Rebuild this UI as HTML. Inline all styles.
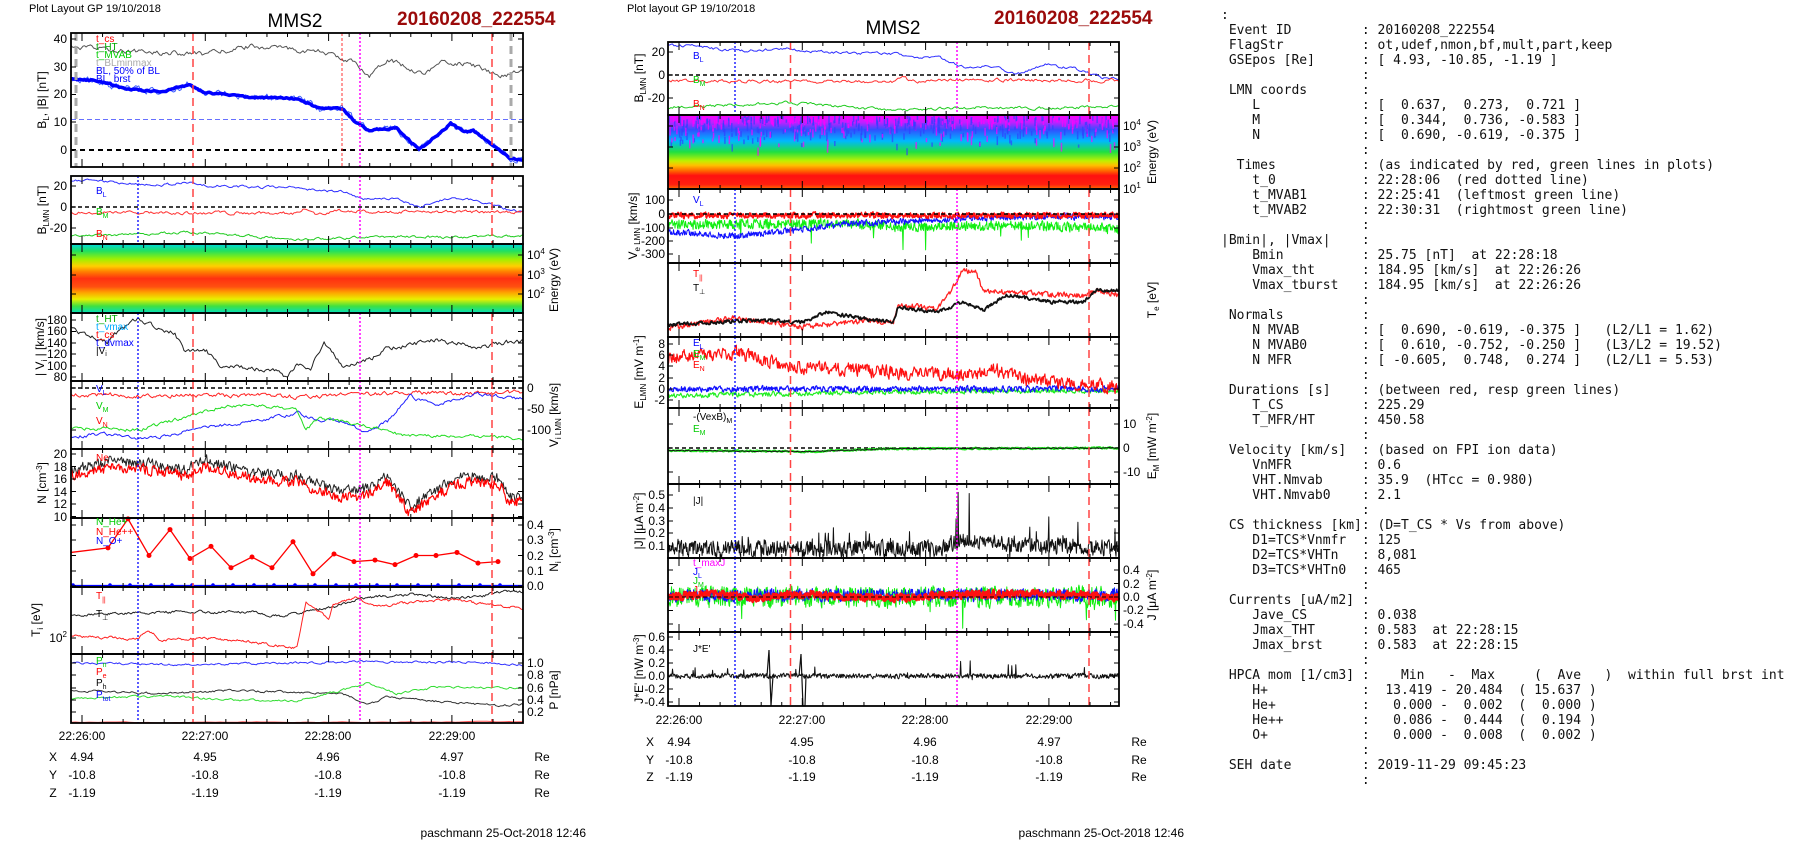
<!DOCTYPE html>
<html><head><meta charset="utf-8">
<style>
html,body{margin:0;padding:0;background:#fff;width:1804px;height:841px;overflow:hidden;position:relative;font-family:"Liberation Sans",sans-serif}
svg{position:absolute;left:0;top:0}
pre{position:absolute;left:1221px;top:8px;margin:0;font-family:"DejaVu Sans Mono","Liberation Mono",monospace;font-size:13px;line-height:15px;color:#111}
svg text{font-family:"Liberation Sans",sans-serif;font-size:12px;fill:#000}
.t{text-anchor:middle}
.r{text-anchor:end}
.lg{font-size:10px}
</style></head><body>
<svg id="s" width="1804" height="841" viewBox="0 0 1804 841">
<defs>
<linearGradient id="g1" x1="0" y1="0" x2="0" y2="1">
<stop offset="0" stop-color="#00d8e0"/><stop offset="0.1" stop-color="#20e060"/><stop offset="0.22" stop-color="#a0f000"/><stop offset="0.32" stop-color="#ffd000"/><stop offset="0.4" stop-color="#ff8000"/><stop offset="0.5" stop-color="#ff3010"/><stop offset="0.62" stop-color="#ff5010"/><stop offset="0.7" stop-color="#ffa000"/><stop offset="0.8" stop-color="#e8f000"/><stop offset="0.9" stop-color="#40e040"/><stop offset="1" stop-color="#00e0c0"/>
</linearGradient>
<linearGradient id="g2" x1="0" y1="0" x2="0" y2="1">
<stop offset="0" stop-color="#ff00ff"/><stop offset="0.1" stop-color="#c020ff"/><stop offset="0.2" stop-color="#3050ff"/><stop offset="0.35" stop-color="#00b8ff"/><stop offset="0.5" stop-color="#20e040"/><stop offset="0.62" stop-color="#c0f000"/><stop offset="0.68" stop-color="#ffc000"/><stop offset="0.76" stop-color="#ff6000"/><stop offset="0.82" stop-color="#ff1010"/><stop offset="0.94" stop-color="#ff2010"/><stop offset="1" stop-color="#ff7000"/>
</linearGradient>
</defs>
<rect x="71" y="244" width="452" height="69" fill="url(#g1)"/>
<rect x="668" y="115" width="451" height="74" fill="url(#g2)"/>
<g id="data"></g>
<!-- titles -->
<text x="29" y="12" style="font-size:11px">Plot Layout GP 19/10/2018</text>
<text x="295" y="27" class="t" style="font-size:19px">MMS2</text>
<text x="397" y="25" style="font-size:19px;font-weight:bold;fill:#9b0a0a">20160208_222554</text>
<text x="627" y="12" style="font-size:11px">Plot layout GP 19/10/2018</text>
<text x="893" y="34" class="t" style="font-size:19px">MMS2</text>
<text x="994" y="24" style="font-size:19px;font-weight:bold;fill:#9b0a0a">20160208_222554</text>
<!-- left tick labels -->
<g class="r">
<text x="67" y="43" class="r">40</text><text x="67" y="71" class="r">30</text><text x="67" y="98" class="r">20</text><text x="67" y="126" class="r">10</text><text x="67" y="154" class="r">0</text>
<text x="67" y="190" class="r">20</text><text x="67" y="211" class="r">0</text><text x="67" y="232" class="r">-20</text>
<text x="67" y="324" class="r">180</text><text x="67" y="335" class="r">160</text><text x="67" y="347" class="r">140</text><text x="67" y="358" class="r">120</text><text x="67" y="370" class="r">100</text><text x="67" y="381" class="r">80</text>
<text x="67" y="458" class="r">20</text><text x="67" y="471" class="r">18</text><text x="67" y="483" class="r">16</text><text x="67" y="496" class="r">14</text><text x="67" y="508" class="r">12</text><text x="67" y="521" class="r">10</text>
<text x="67" y="642" class="r">10<tspan dy="-5" style="font-size:8px">2</tspan></text>
</g>
<text x="527" y="259">10<tspan dy="-5" style="font-size:8px">4</tspan></text><text x="527" y="279">10<tspan dy="-5" style="font-size:8px">3</tspan></text><text x="527" y="298">10<tspan dy="-5" style="font-size:8px">2</tspan></text>
<text x="527" y="392">0</text><text x="527" y="413">-50</text><text x="527" y="434">-100</text>
<text x="527" y="529">0.4</text><text x="527" y="544">0.3</text><text x="527" y="560">0.2</text><text x="527" y="575">0.1</text><text x="527" y="590">0.0</text>
<text x="527" y="667">1.0</text><text x="527" y="679">0.8</text><text x="527" y="692">0.6</text><text x="527" y="704">0.4</text><text x="527" y="716">0.2</text>
<!-- left y titles -->
<text transform="translate(46,100) rotate(-90)" class="t">B<tspan dy="3" style="font-size:8px">L</tspan><tspan dy="-3">, |B| [nT]</tspan></text>
<text transform="translate(46,210) rotate(-90)" class="t">B<tspan dy="3" style="font-size:8px">LMN</tspan><tspan dy="-3"> [nT]</tspan></text>
<text transform="translate(44,347) rotate(-90)" class="t">| V<tspan dy="3" style="font-size:8px">i</tspan><tspan dy="-3"> | [km/s]</tspan></text>
<text transform="translate(46,483) rotate(-90)" class="t">N [cm<tspan dy="-4" style="font-size:8px">-3</tspan><tspan dy="4">]</tspan></text>
<text transform="translate(40,620) rotate(-90)" class="t">T<tspan dy="3" style="font-size:8px">i</tspan><tspan dy="-3"> [eV]</tspan></text>
<text transform="translate(558,280) rotate(-90)" class="t">Energy (eV)</text>
<text transform="translate(558,415) rotate(-90)" class="t">V<tspan dy="3" style="font-size:8px">i LMN</tspan><tspan dy="-3"> [km/s]</tspan></text>
<text transform="translate(558,550) rotate(-90)" class="t">N<tspan dy="3" style="font-size:8px">i</tspan><tspan dy="-3"> [cm</tspan><tspan dy="-4" style="font-size:8px">-3</tspan><tspan dy="4">]</tspan></text>
<text transform="translate(558,690) rotate(-90)" class="t">P [nPa]</text>
<!-- left time/pos -->
<text x="82" y="740" class="t">22:26:00</text><text x="205" y="740" class="t">22:27:00</text><text x="328" y="740" class="t">22:28:00</text><text x="452" y="740" class="t">22:29:00</text>
<text x="53" y="761" class="t">X</text><text x="82" y="761" class="t">4.94</text><text x="205" y="761" class="t">4.95</text><text x="328" y="761" class="t">4.96</text><text x="452" y="761" class="t">4.97</text><text x="542" y="761" class="t">Re</text>
<text x="53" y="779" class="t">Y</text><text x="82" y="779" class="t">-10.8</text><text x="205" y="779" class="t">-10.8</text><text x="328" y="779" class="t">-10.8</text><text x="452" y="779" class="t">-10.8</text><text x="542" y="779" class="t">Re</text>
<text x="53" y="797" class="t">Z</text><text x="82" y="797" class="t">-1.19</text><text x="205" y="797" class="t">-1.19</text><text x="328" y="797" class="t">-1.19</text><text x="452" y="797" class="t">-1.19</text><text x="542" y="797" class="t">Re</text>
<text x="586" y="837" class="r">paschmann 25-Oct-2018 12:46</text>
<!-- middle tick labels -->
<text x="665" y="56" class="r">20</text><text x="665" y="79" class="r">0</text><text x="665" y="102" class="r">-20</text>
<text x="665" y="204" class="r">100</text><text x="665" y="218" class="r">0</text><text x="665" y="232" class="r">-100</text><text x="665" y="245" class="r">-200</text><text x="665" y="258" class="r">-300</text>
<text x="665" y="348" class="r">8</text><text x="665" y="359" class="r">6</text><text x="665" y="370" class="r">4</text><text x="665" y="382" class="r">2</text><text x="665" y="393" class="r">0</text><text x="665" y="404" class="r">-2</text>
<text x="665" y="499" class="r">0.5</text><text x="665" y="512" class="r">0.4</text><text x="665" y="525" class="r">0.3</text><text x="665" y="537" class="r">0.2</text><text x="665" y="550" class="r">0.1</text>
<text x="665" y="641" class="r">0.6</text><text x="665" y="654" class="r">0.4</text><text x="665" y="667" class="r">0.2</text><text x="665" y="680" class="r">0.0</text><text x="665" y="693" class="r">-0.2</text><text x="665" y="706" class="r">-0.4</text>
<text x="1123" y="130">10<tspan dy="-5" style="font-size:8px">4</tspan></text><text x="1123" y="151">10<tspan dy="-5" style="font-size:8px">3</tspan></text><text x="1123" y="172">10<tspan dy="-5" style="font-size:8px">2</tspan></text><text x="1123" y="193">10<tspan dy="-5" style="font-size:8px">1</tspan></text>
<text x="1123" y="428">10</text><text x="1123" y="452">0</text><text x="1123" y="476">-10</text>
<text x="1123" y="574">0.4</text><text x="1123" y="588">0.2</text><text x="1123" y="601">0.0</text><text x="1123" y="614">-0.2</text><text x="1123" y="628">-0.4</text>
<text transform="translate(643,78) rotate(-90)" class="t">B<tspan dy="3" style="font-size:8px">LMN</tspan><tspan dy="-3"> [nT]</tspan></text>
<text transform="translate(637,226) rotate(-90)" class="t">V<tspan dy="3" style="font-size:8px">e LMN</tspan><tspan dy="-3"> [km/s]</tspan></text>
<text transform="translate(643,372) rotate(-90)" class="t">E<tspan dy="3" style="font-size:8px">LMN</tspan><tspan dy="-3">  [mV m</tspan><tspan dy="-4" style="font-size:8px">-1</tspan><tspan dy="4">]</tspan></text>
<text transform="translate(643,521) rotate(-90)" class="t">|J| [μA m<tspan dy="-4" style="font-size:8px">-2</tspan><tspan dy="4">]</tspan></text>
<text transform="translate(643,669) rotate(-90)" class="t">J*E' [nW m<tspan dy="-4" style="font-size:8px">-3</tspan><tspan dy="4">]</tspan></text>
<text transform="translate(1156,152) rotate(-90)" class="t">Energy (eV)</text>
<text transform="translate(1156,300) rotate(-90)" class="t">T<tspan dy="3" style="font-size:8px">e</tspan><tspan dy="-3"> [eV]</tspan></text>
<text transform="translate(1156,446) rotate(-90)" class="t">E<tspan dy="3" style="font-size:8px">M</tspan><tspan dy="-3"> [mW m</tspan><tspan dy="-4" style="font-size:8px">-2</tspan><tspan dy="4">]</tspan></text>
<text transform="translate(1156,595) rotate(-90)" class="t">J [μA m<tspan dy="-4" style="font-size:8px">-2</tspan><tspan dy="4">]</tspan></text>
<text x="679" y="724" class="t">22:26:00</text><text x="802" y="724" class="t">22:27:00</text><text x="925" y="724" class="t">22:28:00</text><text x="1049" y="724" class="t">22:29:00</text>
<text x="650" y="746" class="t">X</text><text x="679" y="746" class="t">4.94</text><text x="802" y="746" class="t">4.95</text><text x="925" y="746" class="t">4.96</text><text x="1049" y="746" class="t">4.97</text><text x="1139" y="746" class="t">Re</text>
<text x="650" y="764" class="t">Y</text><text x="679" y="764" class="t">-10.8</text><text x="802" y="764" class="t">-10.8</text><text x="925" y="764" class="t">-10.8</text><text x="1049" y="764" class="t">-10.8</text><text x="1139" y="764" class="t">Re</text>
<text x="650" y="781" class="t">Z</text><text x="679" y="781" class="t">-1.19</text><text x="802" y="781" class="t">-1.19</text><text x="925" y="781" class="t">-1.19</text><text x="1049" y="781" class="t">-1.19</text><text x="1139" y="781" class="t">Re</text>
<text x="1184" y="837" class="r">paschmann 25-Oct-2018 12:46</text>
<!-- legends -->
<g class="lg">
<text x="96" y="42" class="lg" style="fill:#f00">t_cs</text><text x="96" y="50" class="lg" style="fill:#0a0">t_HT</text><text x="96" y="58" class="lg" style="fill:#0c0">t_MVAB</text><text x="96" y="66" class="lg" style="fill:#aaa">t_BLminmax</text><text x="96" y="74" class="lg" style="fill:#00f">BL, 50% of BL</text><text x="96" y="82" class="lg" style="fill:#00f">BL_brst</text>
<text x="96" y="194" class="lg" style="fill:#00f">B<tspan dy="3" style="font-size:7px">L</tspan></text><text x="96" y="215" class="lg" style="fill:#0c0">B<tspan dy="3" style="font-size:7px">M</tspan></text><text x="96" y="237" class="lg" style="fill:#f00">B<tspan dy="3" style="font-size:7px">N</tspan></text>
<text x="96" y="322" class="lg" style="fill:#0a0">t_HT</text><text x="96" y="330" class="lg" style="fill:#0af">t_vmax</text><text x="96" y="338" class="lg" style="fill:#f00">t_cs</text><text x="96" y="346" class="lg" style="fill:#00f">t_dvmax</text><text x="96" y="354" class="lg">|V<tspan dy="2" style="font-size:7px">i</tspan></text>
<text x="96" y="392" class="lg" style="fill:#00f">V<tspan dy="3" style="font-size:7px">L</tspan></text><text x="96" y="409" class="lg" style="fill:#0c0">V<tspan dy="3" style="font-size:7px">M</tspan></text><text x="96" y="424" class="lg" style="fill:#f00">V<tspan dy="3" style="font-size:7px">N</tspan></text>
<text x="96" y="461" class="lg" style="fill:#f00">Ne</text>
<text x="96" y="525" class="lg" style="fill:#0c0">N_He+</text><text x="96" y="535" class="lg" style="fill:#f00">N_He++</text><text x="96" y="544" class="lg" style="fill:#00f">N_O+</text>
<text x="96" y="599" class="lg" style="fill:#f00">T<tspan dy="3" style="font-size:7px">||</tspan></text><text x="96" y="617" class="lg">T<tspan dy="3" style="font-size:7px">⊥</tspan></text>
<text x="96" y="664" class="lg" style="fill:#0c0">P<tspan dy="3" style="font-size:7px">n</tspan></text><text x="96" y="675" class="lg" style="fill:#f00">P<tspan dy="3" style="font-size:7px">e</tspan></text><text x="96" y="686" class="lg">P<tspan dy="3" style="font-size:7px">h</tspan></text><text x="96" y="698" class="lg" style="fill:#00f">P<tspan dy="3" style="font-size:7px">tot</tspan></text>
<text x="693" y="59" class="lg" style="fill:#00f">B<tspan dy="3" style="font-size:7px">L</tspan></text><text x="693" y="83" class="lg" style="fill:#0c0">B<tspan dy="3" style="font-size:7px">M</tspan></text><text x="693" y="107" class="lg" style="fill:#f00">B<tspan dy="3" style="font-size:7px">N</tspan></text>
<text x="693" y="203" class="lg" style="fill:#00f">V<tspan dy="3" style="font-size:7px">L</tspan></text>
<text x="693" y="277" class="lg" style="fill:#f00">T<tspan dy="3" style="font-size:7px">||</tspan></text><text x="693" y="291" class="lg">T<tspan dy="3" style="font-size:7px">⊥</tspan></text>
<text x="693" y="346" class="lg" style="fill:#00f">E<tspan dy="3" style="font-size:7px">L</tspan></text><text x="693" y="357" class="lg" style="fill:#0c0">E<tspan dy="3" style="font-size:7px">M</tspan></text><text x="693" y="368" class="lg" style="fill:#f00">E<tspan dy="3" style="font-size:7px">N</tspan></text>
<text x="693" y="420" class="lg">-(VexB)<tspan dy="3" style="font-size:7px">M</tspan></text><text x="693" y="432" class="lg" style="fill:#0c0">E<tspan dy="3" style="font-size:7px">M</tspan></text>
<text x="693" y="504" class="lg">|J|</text>
<text x="693" y="566" class="lg" style="fill:#f0f">t_maxJ</text><text x="693" y="575" class="lg" style="fill:#00f">J<tspan dy="3" style="font-size:7px">L</tspan></text><text x="693" y="584" class="lg" style="fill:#0c0">J<tspan dy="3" style="font-size:7px">M</tspan></text><text x="693" y="593" class="lg" style="fill:#f00">J<tspan dy="3" style="font-size:7px">N</tspan></text>
<text x="693" y="652" class="lg">J*E'</text>
</g>
</svg>
<pre>:
 Event ID         : 20160208_222554
 FlagStr          : ot,udef,nmon,bf,mult,part,keep
 GSEpos [Re]      : [ 4.93, -10.85, -1.19 ]
                  :
 LMN coords       :
    L             : [  0.637,  0.273,  0.721 ]
    M             : [  0.344,  0.736, -0.583 ]
    N             : [  0.690, -0.619, -0.375 ]
                  :
  Times           : (as indicated by red, green lines in plots)
    t_0           : 22:28:06  (red dotted line)
    t_MVAB1       : 22:25:41  (leftmost green line)
    t_MVAB2       : 22:30:31  (rightmost green line)
                  :
|Bmin|, |Vmax|    :
    Bmin          : 25.75 [nT]  at 22:28:18
    Vmax_tht      : 184.95 [km/s]  at 22:26:26
    Vmax_tburst   : 184.95 [km/s]  at 22:26:26
                  :
 Normals          :
    N MVAB        : [  0.690, -0.619, -0.375 ]   (L2/L1 = 1.62)
    N MVAB0       : [  0.610, -0.752, -0.250 ]   (L3/L2 = 19.52)
    N MFR         : [ -0.605,  0.748,  0.274 ]   (L2/L1 = 5.53)
                  :
 Durations [s]    : (between red, resp green lines)
    T_CS          : 225.29
    T_MFR/HT      : 450.58
                  :
 Velocity [km/s]  : (based on FPI ion data)
    VnMFR         : 0.6
    VHT.Nmvab     : 35.9  (HTcc = 0.980)
    VHT.Nmvab0    : 2.1
                  :
 CS thickness [km]: (D=T_CS * Vs from above)
    D1=TCS*Vnmfr  : 125
    D2=TCS*VHTn   : 8,081
    D3=TCS*VHTn0  : 465
                  :
 Currents [uA/m2] :
    Jave_CS       : 0.038
    Jmax_THT      : 0.583  at 22:28:15
    Jmax_brst     : 0.583  at 22:28:15
                  :
 HPCA mom [1/cm3] :    Min   -  Max     (  Ave   )  within full brst int
    H+            :  13.419 - 20.484  ( 15.637 )
    He+           :   0.000 -  0.002  (  0.000 )
    He++          :   0.086 -  0.444  (  0.194 )
    O+            :   0.000 -  0.008  (  0.002 )
                  :
 SEH date         : 2019-11-29 09:45:23
                  :</pre>
<script>
(function(){
const G=document.getElementById('data'),NS='http://www.w3.org/2000/svg';
function el(t,a){const e=document.createElementNS(NS,t);for(const k in a)e.setAttribute(k,a[k]);G.appendChild(e);return e;}
let seed=12345;function rnd(){seed|=0;seed=seed+0x6D2B79F5|0;let t=Math.imul(seed^seed>>>15,1|seed);t=t+Math.imul(t^t>>>7,61|t)^t;return((t^t>>>14)>>>0)/4294967296;}
function ip(kp,f){for(let i=1;i<kp.length;i++){if(f<=kp[i][0]){const a=kp[i-1],b=kp[i];return a[1]+(b[1]-a[1])*(f-a[0])/(b[0]-a[0]);}}return kp[kp.length-1][1];}
function tr(X,t,b,kp,yf,amp,n,col,w,ar,spk){ar=(ar===undefined)?0.6:ar;let e=0,d='';for(let i=0;i<=n;i++){const f=i/n;e=ar*e+(rnd()-0.5)*amp;let v=ip(kp,f)+e;if(spk&&rnd()<spk[0])v+=(rnd()-0.2)*spk[1]*ip(spk[2]||[[0,1],[1,1]],f);const x=X.x0+f*(X.x1-X.x0);let y=yf(v);y=Math.max(t,Math.min(b,y));d+=(i?'L':'M')+x.toFixed(1)+' '+y.toFixed(1);}el('path',{d:d,fill:'none',stroke:col,'stroke-width':w,'stroke-linejoin':'round'});}
function hl(X,y,col,w,dash){el('line',{x1:X.x0,x2:X.x1,y1:y,y2:y,stroke:col,'stroke-width':w,'stroke-dasharray':dash});}
function vl(x,t,b,col,w,dash){el('line',{x1:x,x2:x,y1:t,y2:b,stroke:col,'stroke-width':w,'stroke-dasharray':dash});}
function frame(X,t,b){for(let s=-10;s<=220;s+=10){const x=X.x0+11+s*2.055;if(x<=X.x0+1||x>=X.x1-1)continue;const L=(s%60==0)?8:4;el('line',{x1:x,x2:x,y1:t,y2:t+L,stroke:'#000'});el('line',{x1:x,x2:x,y1:b,y2:b-L,stroke:'#000'});}
el('rect',{x:X.x0,y:t,width:X.x1-X.x0,height:b-t,fill:'none',stroke:'#000','stroke-width':1.8});}
function yt(X,ys,L){ys.forEach(function(y){el('line',{x1:X.x0,x2:X.x0+L,y1:y,y2:y,stroke:'#000'});el('line',{x1:X.x1,x2:X.x1-L,y1:y,y2:y,stroke:'#000'});});}
const Lx={x0:71,x1:523},Mx={x0:668,x1:1119};
const BL=[[0,25.5],[.06,25],[.12,22],[.2,21],[.26,23.5],[.3,20.5],[.35,20],[.4,19],[.5,18.5],[.55,15],[.6,15],[.63,10],[.66,7],[.72,8],[.77,0],[.8,4],[.84,9.5],[.87,6.5],[.89,7],[.94,1],[.97,-3],[1,-3.5]];
const BM=[[0,-5],[.5,-6],[.52,-1],[.54,-6],[.6,-4],[1,-5]];
const BN=[[0,-28],[.27,-24],[.5,-31],[.7,-28],[.85,-29],[1,-27]];
// ---- LEFT ----
// P1
let y1=v=>150-2.775*v;
hl(Lx,y1(11),'#6670ff',1,'5,3');hl(Lx,150,'#000',2,'5,4');
tr(Lx,33,167,[[0,37],[.1,36],[.2,35],[.3,34.5],[.35,36],[.4,37.5],[.5,36],[.55,35.5],[.6,33],[.63,31],[.66,27],[.7,33],[.74,30],[.78,27.5],[.82,31.5],[.88,31],[.95,26.5],[1,28]],y1,1.4,300,'#555',1);
tr(Lx,33,167,BL,y1,2.2,300,'#4060ff',1,0.5);
tr(Lx,33,167,BL,y1,0.5,300,'#0000ff',3.5,0.5);
vl(76,33,167,'#aaa',3,'8,5');vl(511,33,167,'#aaa',3,'8,5');vl(342,33,167,'#f33',1,'3,2');
// P2
let y2=v=>207-1.05*v;
hl(Lx,207,'#000',1.5,'4,3');
tr(Lx,176,244,BL,y2,2,300,'#3030ff',1);tr(Lx,176,244,BM,y2,2.5,300,'#f33',1);tr(Lx,176,244,BN,y2,2,300,'#2c2',1);
// Vi
let y3=v=>320-(v-180)*0.57;
tr(Lx,313,381,[[0,165],[.05,150],[.08,140],[.12,170],[.15,185],[.2,160],[.23,158],[.25,125],[.3,125],[.33,100],[.4,95],[.45,90],[.48,80],[.5,105],[.53,95],[.56,140],[.6,100],[.66,110],[.7,130],[.75,135],[.8,145],[.85,140],[.9,130],[.95,140],[1,143]],y3,7,300,'#222',1);
// Vlmn
let y4=v=>388-0.42*v;
hl(Lx,388,'#000',1.5,'4,3');
tr(Lx,381,449,[[0,-15],[.5,-20],[.6,-15],[1,-10]],y4,9,300,'#f22',1);
tr(Lx,381,449,[[0,-115],[.1,-110],[.15,-125],[.3,-95],[.45,-70],[.5,-60],[.55,-75],[.6,-80],[.65,-105],[.7,-80],[.75,-20],[.8,-40],[.9,-15],[1,-25]],y4,7,300,'#22f',1);
tr(Lx,381,449,[[0,-95],[.15,-100],[.25,-70],[.35,-40],[.45,-45],[.5,-55],[.52,-100],[.55,-70],[.6,-80],[.65,-90],[.75,-115],[.9,-115],[1,-120]],y4,7,300,'#2d2',1);
// N
let y5=v=>454-(v-20)*6.25;
const NK=[[0,17.5],[.1,19],[.17,18.5],[.25,17.5],[.3,19],[.4,17],[.5,16.5],[.55,15],[.6,14],[.66,14.5],[.7,16.5],[.75,11.5],[.8,14],[.85,16],[.88,16.5],[.95,16],[.97,13],[1,13.5]];
tr(Lx,449,518,NK,y5,1.6,500,'#222',1,0.3);
tr(Lx,449,518,NK.map(p=>[p[0],p[1]-1]),y5,1.6,500,'#f00',1.2,0.3);
// Ni
const NP=[[71,.22],[108,.25],[128,.44],[149,.2],[170,.37],[190,.18],[211,.26],[231,.12],[252,.19],[272,.12],[293,.29],[313,.08],[334,.21],[354,.16],[375,.17],[395,.14],[416,.2],[436,.2],[457,.22],[478,.15],[498,.16]];
let d='';NP.forEach((p,i)=>{const y=Math.max(518,586-152.5*p[1]);d+=(i?'L':'M')+p[0]+' '+y;});
el('path',{d:d,fill:'none',stroke:'#f00','stroke-width':1.3});
NP.forEach(p=>{if(p[0]>71)el('circle',{cx:p[0],cy:Math.max(518,586-152.5*p[1]),r:2.5,fill:'#f00'});el('circle',{cx:p[0]+2,cy:585,r:1.8,fill:'#00f'});});
hl(Lx,585.5,'#00f',1.2,'');
// Ti
let yi=v=>v;
tr(Lx,587,654,[[0,615],[.2,612],[.4,612],[.47,617],[.5,613],[.58,607],[.63,600],[.68,597],[.75,594],[.85,598],[.9,597],[.95,592],[1,592]],yi,2.2,400,'#222',1);
tr(Lx,587,654,[[0,636],[.15,639],[.17,630],[.2,640],[.3,638],[.4,642],[.5,648],[.52,602],[.55,612],[.57,618],[.58,605],[.63,598],[.68,606],[.75,602],[.85,600],[.95,606],[1,608]],yi,2.2,400,'#f22',1);
// P
let y7=v=>663-(v-1)*61.25;
tr(Lx,654,723,[[0,1.0],[.25,.97],[.5,1.0],[.6,1.02],[.8,1.01],[.9,1.02],[1,.96]],y7,.03,300,'#33f',1);
tr(Lx,654,723,[[0,.55],[.2,.5],[.35,.55],[.6,.5],[.66,.33],[.7,.45],[.8,.38],[.95,.3],[1,.33]],y7,.03,300,'#333',1);
tr(Lx,654,723,[[0,.42],[.2,.46],[.35,.4],[.5,.38],[.6,.55],[.66,.68],[.72,.5],[.8,.6],[1,.6]],y7,.03,300,'#3d3',1);
tr(Lx,654,723,[[0,.03],[1,.04]],y7,.01,100,'#f55',1);
const LP=[[33,167],[176,244],[244,313],[313,381],[381,449],[449,518],[518,587],[587,654],[654,723]];
LP.forEach((p,i)=>{if(i==2)return;vl(193,p[0],p[1],'#f44',1.5,'8,5');vl(492,p[0],p[1],'#f44',1.5,'8,5');vl(360,p[0],p[1],'#f0f',1.5,'2,2');if(i>0)vl(138,p[0],p[1],'#00f',1.3,'2,2');});
LP.forEach(p=>frame(Lx,p[0],p[1]));
yt(Lx,[39,67,94.5,122,150],5);yt(Lx,[186,207,228],5);yt(Lx,[320,331.5,343,354,366,377],5);yt(Lx,[388,409,430],5);yt(Lx,[454,466.5,479,491.5,504,516.5],5);yt(Lx,[525,540,555.5,571,586],5);yt(Lx,[638],5);yt(Lx,[663,675,688,700,712],5);yt(Lx,[255,275,294],5);
// ---- MIDDLE ----
let m1=v=>75-1.15*v;
hl(Mx,75,'#000',1.5,'4,3');
tr(Mx,42,115,BL,m1,2,300,'#3030ff',1);tr(Mx,42,115,BM,m1,2.5,300,'#f33',1);tr(Mx,42,115,BN,m1,2,300,'#2c2',1);
// spectrogram speckle
for(let i=0;i<500;i++){const x=668+rnd()*448,y=115+rnd()*rnd()*35;el('rect',{x:x,y:y,width:1.5,height:3+rnd()*6,fill:rnd()<0.5?'#3040ff':'#ff00ff',opacity:0.7});}
let m2=v=>214-0.135*v;
tr(Mx,189,263,[[0,-80],[.4,-70],[.5,-95],[.6,-90],[.8,-85],[1,-110]],m2,70,900,'#1e1',1,0.2,[0.01,-250]);
tr(Mx,189,263,[[0,-130],[.15,-165],[.3,-110],[.4,-70],[.5,-60],[.6,-40],[.8,-20],[1,-20]],m2,45,900,'#11f',1,0.3);
tr(Mx,189,263,[[0,-10],[1,-10]],m2,40,900,'#f11',1.6,0.3);
hl(Mx,214,'#000',1.5,'4,3');
tr(Mx,263,337,[[0,328],[.15,318],[.3,327],[.45,320],[.5,323],[.51,305],[.6,308],[.63,290],[.65,272],[.68,270],[.7,292],[.78,292],[.85,295],[.92,295],[.95,290],[1,295]],yi,5,600,'#f22',1.3,0.3);
tr(Mx,263,337,[[0,325],[.2,320],[.3,322],[.35,312],[.45,320],[.5,321],[.51,307],[.6,312],[.65,302],[.7,310],[.75,295],[.85,302],[.92,302],[.95,290],[1,290]],yi,3,600,'#111',1.8,0.4);
let m4=v=>389-5.6*v;
tr(Mx,337,408,[[0,-1.2],[.5,-.5],[1,-.3]],m4,.8,600,'#2e2',1.2,0.3);
tr(Mx,337,408,[[0,0],[1,0]],m4,1.0,700,'#11f',1.2,0.3);
tr(Mx,337,408,[[0,5.5],[.15,6.5],[.27,4],[.4,3.5],[.5,3],[.6,2.5],[.68,2.5],[.72,3.5],[.8,1.5],[.9,1],[1,.5]],m4,2,700,'#f11',1.2,0.4);
let m5=v=>448-2.4*v;
hl(Mx,448,'#000',1.5,'4,3');
tr(Mx,408,484,[[0,-1],[.3,-1.5],[.5,-.3],[1,0]],m5,.6,400,'#2e2',2.2,0.3);
tr(Mx,408,484,[[0,-1],[.3,-1.5],[.5,-.3],[1,0]],m5,.4,400,'#111',1,0.3);
let m6=v=>546-(v-0.1)*127.5;
tr(Mx,484,558,[[0,.08],[.6,.08],[.65,.15],[.75,.12],[1,.08]],m6,.12,900,'#111',1,0.2,[0.08,0.3,[[0,.5],[.6,.6],[.64,1.6],[.75,1.1],[1,.5]]]);
let m7=v=>597-67.5*v;
tr(Mx,558,632,[[0,0],[1,0]],m7,.3,900,'#1e1',1,0.2,[0.02,-.5,[[0,.5],[.6,.6],[.65,1.5],[.75,1.2],[1,.5]]]);
tr(Mx,558,632,[[0,.02],[1,.03]],m7,.18,900,'#11f',1,0.2);
tr(Mx,558,632,[[0,0],[.1,.05],[.2,-.02],[.3,.05],[.4,0],[.5,-.02],[.6,.03],[.8,.05],[1,0]],m7,.1,900,'#f11',2.5,0.3);
hl(Mx,597,'#000',1,'4,3');
let m8=v=>676-65*v;
tr(Mx,632,706,[[0,0],[1,0]],m8,.07,900,'#111',1,0.3,[0.03,0.3,[[0,.5],[.6,.6],[.64,1.5],[.75,1],[1,.6]]]);
el('path',{d:'M767 676L769 650L771 706L773 676M799 676L801 654L803 706L805 706L806 676',fill:'none',stroke:'#111','stroke-width':1.2});
const MP=[[42,115],[115,189],[189,263],[263,337],[337,408],[408,484],[484,558],[558,632],[632,706]];
MP.forEach((p,i)=>{if(i==1)return;vl(790.5,p[0],p[1],'#f44',1.5,'8,5');vl(1089,p[0],p[1],'#f44',1.5,'8,5');vl(957,p[0],p[1],'#f0f',1.5,'2,2');vl(735,p[0],p[1],'#00f',1.3,'2,2');});
MP.forEach(p=>frame(Mx,p[0],p[1]));
yt(Mx,[52,75,98],5);yt(Mx,[126,147,168],5);yt(Mx,[200,214,228,241,254],5);yt(Mx,[344,355,366,378,389,400],5);yt(Mx,[424,448,472],5);yt(Mx,[495,508,521,533,546],5);yt(Mx,[570,583.5,597,610.5,624],5);yt(Mx,[637,650,663,676,689,702],5);
})();
</script>
</body></html>
